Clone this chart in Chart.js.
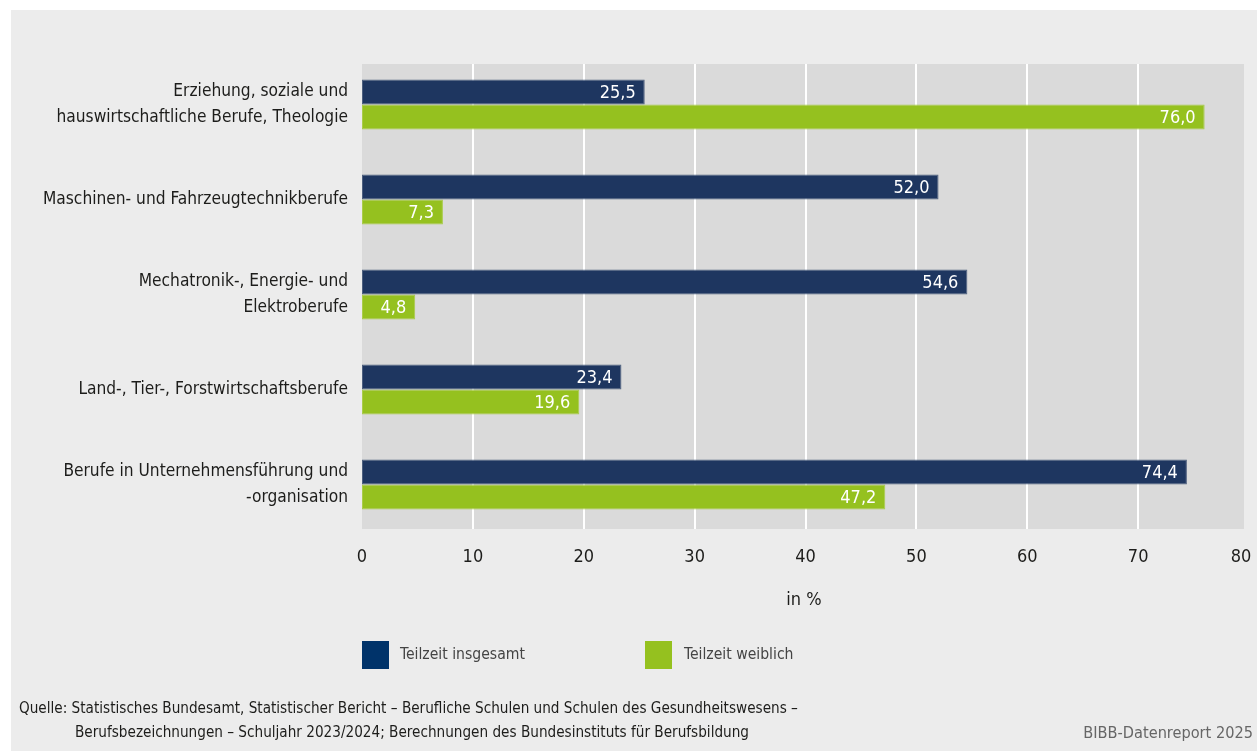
<!DOCTYPE html>
<html><head><meta charset="utf-8">
<script src="https://cdn.jsdelivr.net/npm/chart.js@4/dist/chart.umd.min.js"></script>
<style>
html,body{margin:0;padding:0;background:#fff;width:1257px;height:751px;overflow:hidden;}
#panel{position:absolute;left:11px;top:10px;width:1246px;height:741px;background:#ececec;}
#wrap{position:absolute;left:0;top:0;width:1257px;height:751px;}
.t{position:absolute;font-family:'DejaVu Sans Condensed',sans-serif;white-space:nowrap;line-height:1;}
.sw{position:absolute;width:27px;height:28px;}
</style></head>
<body>
<div id="panel"></div>
<div id="wrap"><canvas id="c" width="1257" height="751"></canvas></div>
<div class="t" id="axt" style="left:804px;top:590px;transform:translateX(-50%);font-size:18px;color:#1d1d1b;">in %</div>
<div class="sw" style="left:362px;top:641px;background:#00336a;"></div>
<div class="t" style="left:400px;top:647px;font-size:15.6px;color:#444;">Teilzeit insgesamt</div>
<div class="sw" style="left:645px;top:641px;background:#95c11f;"></div>
<div class="t" style="left:684px;top:647px;font-size:15.6px;color:#444;">Teilzeit weiblich</div>
<div class="t" style="left:19px;top:701px;font-size:15.15px;color:#1d1d1b;">Quelle: Statistisches Bundesamt, Statistischer Bericht – Berufliche Schulen und Schulen des Gesundheitswesens –</div>
<div class="t" style="left:75px;top:725px;font-size:15.15px;color:#1d1d1b;">Berufsbezeichnungen – Schuljahr 2023/2024; Berechnungen des Bundesinstituts für Berufsbildung</div>
<div class="t" style="right:4px;top:725px;font-size:16.2px;color:#666;">BIBB-Datenreport 2025</div>
<script>
const FONT = "'DejaVu Sans Condensed',sans-serif";
const categories = [
  ["Erziehung, soziale und", "hauswirtschaftliche Berufe, Theologie"],
  "Maschinen- und Fahrzeugtechnikberufe",
  ["Mechatronik-, Energie- und", "Elektroberufe"],
  "Land-, Tier-, Forstwirtschaftsberufe",
  ["Berufe in Unternehmensführung und", "-organisation"]
];
const seriesNames = ["Teilzeit insgesamt", "Teilzeit weiblich"];
const teilzeitInsgesamt = [25.5, 52.0, 54.6, 23.4, 74.4];
const teilzeitWeiblich = [76.0, 7.3, 4.8, 19.6, 47.2];
const xTickValues = [0, 10, 20, 30, 40, 50, 60, 70, 80];

const fmt = v => v.toFixed(1).replace('.', ',');

const plotBg = {
  id: 'plotBg',
  beforeDraw(chart) {
    const items = chart.scales.x.getLabelItems();
    if (items.length) {
      const last = items[items.length - 1];
      if (!last._shifted) { last.options.translation[0] -= 8; last._shifted = true; }
    }
  },
  beforeDatasetsDraw(chart) {
    const {ctx, chartArea: a, scales: {x}} = chart;
    ctx.save();
    ctx.fillStyle = '#dadada';
    const top = a.top + 7, bot = a.bottom - 3;
    ctx.fillRect(a.left, top, a.right - 5 - a.left, bot - top);
    ctx.fillStyle = '#ffffff';
    xTickValues.forEach(v => {
      if (v === 0 || v === 80) return;
      const px = Math.round(x.getPixelForValue(v));
      ctx.fillRect(px - 1, top, 2, bot - top);
    });
    ctx.restore();
  },
  afterDatasetsDraw(chart) {
    const {ctx} = chart;
    ctx.save();
    ctx.font = '18px ' + FONT;
    ctx.fillStyle = '#ffffff';
    ctx.textAlign = 'right';
    ctx.textBaseline = 'middle';
    chart.data.datasets.forEach((ds, i) => {
      chart.getDatasetMeta(i).data.forEach((bar, j) => {
        ctx.fillText(fmt(ds.data[j]), bar.x - 9, bar.y + 1);
      });
    });
    ctx.restore();
  }
};

new Chart(document.getElementById('c'), {
  type: 'bar',
  data: {
    labels: categories,
    datasets: [
      {label: seriesNames[0], data: teilzeitInsgesamt, backgroundColor: '#1e3660', borderColor: '#4d5f7e', borderWidth: 1, borderSkipped: false},
      {label: seriesNames[1], data: teilzeitWeiblich, backgroundColor: '#95c11f', borderColor: '#a9cc4a', borderWidth: 1, borderSkipped: false}
    ]
  },
  options: {
    indexAxis: 'y',
    responsive: false,
    animation: false,
    devicePixelRatio: 1,
    layout: {autoPadding: false, padding: {top: 57, right: 8, bottom: 0, left: 0}},
    categoryPercentage: 0.526,
    barPercentage: 1.0,
    plugins: {legend: {display: false}, tooltip: {enabled: false}},
    scales: {
      x: {
        min: 0, max: 80,
        grid: {display: false, drawTicks: false},
        border: {display: false},
        ticks: {stepSize: 10, padding: 15, color: '#1d1d1b', font: {family: FONT, size: 18}},
        afterFit(s) { s.height = 219; s.paddingLeft = 0; s.paddingRight = 0; s.paddingTop = 0; s.paddingBottom = 0; }
      },
      y: {
        grid: {display: false, drawTicks: false},
        border: {display: false},
        ticks: {padding: 14, color: '#1d1d1b', font: {family: FONT, size: 17.2, lineHeight: 1.51}},
        afterFit(s) { s.width = 362; s.paddingTop = 0; s.paddingBottom = 0; }
      }
    }
  },
  plugins: [plotBg]
});
</script>
</body></html>
